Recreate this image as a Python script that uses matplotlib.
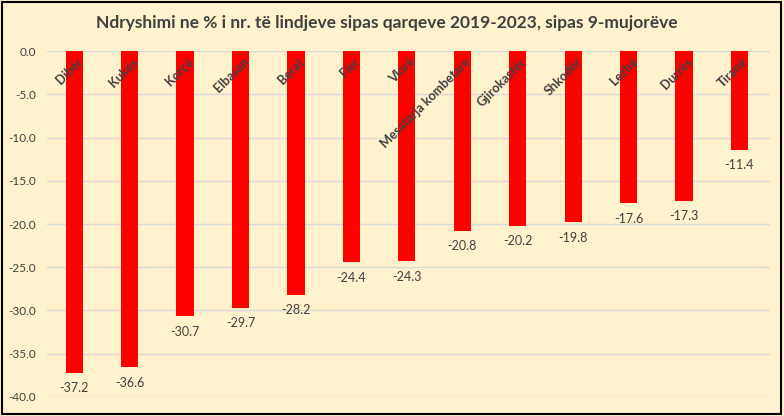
import matplotlib
matplotlib.use('Agg')
import matplotlib.pyplot as plt
from matplotlib.patches import Rectangle

# Data
regions = ["Dibër", "Kukës", "Korçë", "Elbasan", "Berat", "Fier", "Vlorë",
           "Mesatarja kombetare", "Gjirokastër", "Shkodër", "Lezhë", "Durrës", "Tiranë"]
change_pct = [-37.2, -36.6, -30.7, -29.7, -28.2, -24.4, -24.3,
              -20.8, -20.2, -19.8, -17.6, -17.3, -11.4]
y_ticks = [0, -5, -10, -15, -20, -25, -30, -35, -40]

BG = '#FFF2CC'
TXT = '#404040'
plt.rcParams['font.family'] = ['Lato', 'DejaVu Sans']

fig = plt.figure(figsize=(7.84, 4.16), dpi=100, facecolor=BG)
ax = fig.add_axes([0.06, 0.046, 0.922, 0.831])
ax.set_facecolor(BG)

x = list(range(len(regions)))
ax.bar(x, change_pct, width=0.31, color='#FF0000', zorder=3)

ax.set_ylim(-40, 0)
ax.set_xlim(-0.49, len(regions) - 0.45)
ax.set_yticks(y_ticks)
ax.set_yticklabels([f"{v:.1f}" for v in y_ticks], fontsize=8.5, color=TXT)
ax.set_xticks([])
ax.tick_params(axis='y', length=0, pad=8)
ax.grid(axis='y', color='#D9D9D9', linewidth=1, zorder=0)
for s in ax.spines.values():
    s.set_visible(False)

# category labels inside the plot, rotated
for i, name in enumerate(regions):
    ax.text(i + 0.12, -1.0, name, rotation=45, rotation_mode='anchor',
            ha='right', va='center', fontsize=9.2, fontweight='bold',
            color=TXT, zorder=4)

# value labels under each bar
for i, v in enumerate(change_pct):
    ax.text(i, v - 1.8, f"{v:.1f}", ha='center', va='center',
            fontsize=9, color=TXT, zorder=4)

fig.text(0.493, 0.945, "Ndryshimi ne % i nr. të lindjeve sipas qarqeve 2019-2023, sipas 9-mujorëve",
         ha='center', va='center', fontsize=12.5, fontweight='bold', color=TXT)

fig.patches.append(Rectangle((0.002, 0.004), 0.994, 0.99, transform=fig.transFigure,
                             fill=False, edgecolor='black', linewidth=1.5))

fig.savefig('out.png', dpi=100, facecolor=BG)
